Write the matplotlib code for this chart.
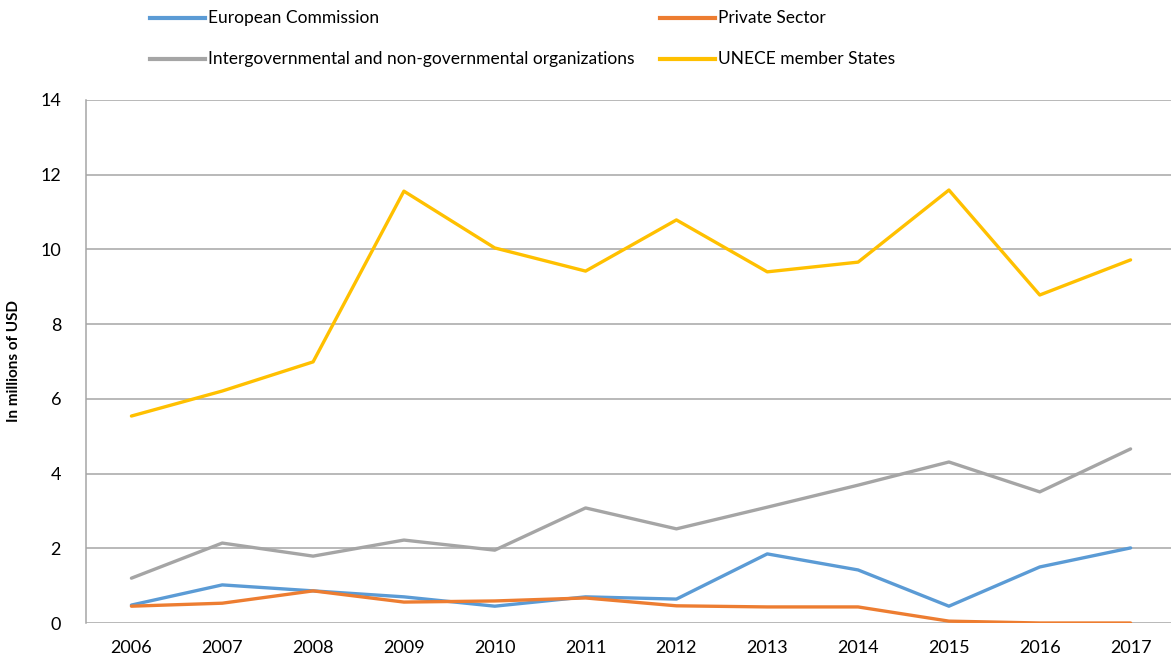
import matplotlib
matplotlib.use("Agg")
import matplotlib.pyplot as plt
from matplotlib.lines import Line2D

years = [2006, 2007, 2008, 2009, 2010, 2011, 2012, 2013, 2014, 2015, 2016, 2017]
european_commission = [0.48, 1.02, 0.86, 0.70, 0.45, 0.70, 0.64, 1.85, 1.42, 0.45, 1.50, 2.01]
private_sector = [0.45, 0.53, 0.86, 0.56, 0.59, 0.67, 0.46, 0.43, 0.43, 0.05, 0.0, 0.0]
igo_ngo = [1.20, 2.14, 1.79, 2.22, 1.95, 3.08, 2.52, 3.10, 3.69, 4.31, 3.51, 4.66]
unece_states = [5.54, 6.21, 6.99, 11.56, 10.04, 9.42, 10.79, 9.40, 9.66, 11.59, 8.78, 9.72]

yticks = [0, 2, 4, 6, 8, 10, 12, 14]

series_labels = ['European Commission', 'Private Sector',
                 'Intergovernmental and non-governmental organizations',
                 'UNECE member States']

C_BLUE = '#5b9bd5'
C_ORANGE = '#ed7d31'
C_GREY = '#a5a5a5'
C_YELLOW = '#ffc000'
GRID = '#a6a6a6'

W, H = 1171, 663
plt.rcParams['font.family'] = ['Lato', 'DejaVu Sans']

fig = plt.figure(figsize=(W / 100, H / 100), dpi=100)
ax = fig.add_axes([86 / W, 40 / H, 1090 / W, 523 / H])

lw = 2.4
series = [european_commission, private_sector, igo_ngo, unece_states]
colors = [C_BLUE, C_ORANGE, C_GREY, C_YELLOW]
for vals, c in zip(series, colors):
    ax.plot(years, vals, color=c, lw=lw, solid_capstyle='round', zorder=3)

ax.set_xlim(2005.5, 2017.5)
ax.set_ylim(0, 14)
ax.set_yticks(yticks)
ax.set_xticks(years)
ax.tick_params(axis='both', length=0, labelsize=13, colors='black')
ax.tick_params(axis='x', pad=12)
ax.tick_params(axis='y', pad=18)
ax.grid(axis='y', color=GRID, lw=1.1)
ax.set_axisbelow(True)
for s in ['top', 'right', 'bottom']:
    ax.spines[s].set_visible(False)
ax.spines['left'].set_color(GRID)
ax.spines['left'].set_linewidth(1.1)

ax.set_ylabel('In millions of USD', fontsize=11, fontweight='bold', labelpad=14)

# Legend laid out by hand in figure pixels: 2 columns x 2 rows
col_x = [150, 660]
row_y = [18, 59]
for i, (lab, c) in enumerate(zip(series_labels, colors)):
    x0 = col_x[i % 2]
    y0 = H - row_y[i // 2]
    fig.add_artist(Line2D([x0 / W, (x0 + 55) / W], [y0 / H, y0 / H],
                          color=c, lw=3, transform=fig.transFigure))
    fig.text((x0 + 58) / W, y0 / H, lab, fontsize=12.5, va='center', ha='left')

fig.savefig('out.png')
